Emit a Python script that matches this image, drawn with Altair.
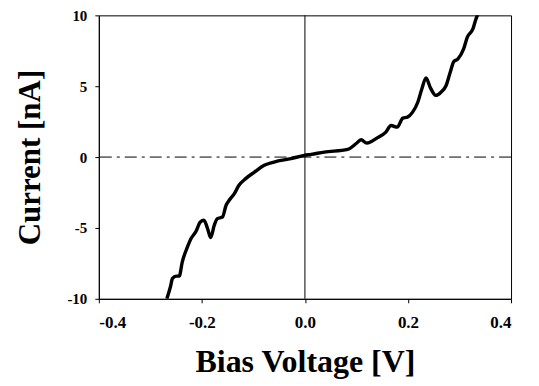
import altair as alt
import pandas as pd

voltage = [-0.268, -0.261, -0.257, -0.250, -0.244, -0.238, -0.228, -0.221, -0.212, -0.203,
           -0.196, -0.189, -0.183, -0.176, -0.170, -0.160, -0.153, -0.147, -0.137, -0.128,
           -0.115, -0.098, -0.079, -0.060, -0.027, -0.001, 0.012, 0.0375, 0.083, 0.099,
           0.109, 0.120, 0.141, 0.157, 0.167, 0.179, 0.190, 0.199, 0.209, 0.219,
           0.227, 0.235, 0.243, 0.254, 0.264, 0.274, 0.282, 0.289, 0.297, 0.308,
           0.315, 0.326, 0.332, 0.336]
current = [-10.0, -9.15, -8.56, -8.40, -8.40, -7.39, -6.34, -5.75, -5.28, -4.58,
           -4.46, -5.04, -5.68, -4.81, -4.34, -4.23, -3.40, -3.05, -2.58, -1.99,
           -1.52, -1.06, -0.58, -0.35, -0.11, 0.12, 0.19, 0.35, 0.54, 0.94,
           1.22, 0.99, 1.37, 1.76, 2.23, 2.11, 2.75, 2.82, 3.17, 3.87,
           4.82, 5.59, 4.93, 4.35, 4.58, 5.05, 5.99, 6.74, 6.93, 7.63,
           8.45, 9.04, 9.75, 10.1]

x_ticks = [-0.4, -0.2, 0.0, 0.2, 0.4]
y_ticks = [-10, -5, 0, 5, 10]

df = pd.DataFrame({"v": voltage, "i": current})
FONT = "Liberation Serif"

xs = alt.Scale(domain=[-0.4, 0.4], nice=False)
ys = alt.Scale(domain=[-10, 10], nice=False)

line = alt.Chart(df).mark_line(color="black", strokeWidth=3.4, interpolate="monotone", clip=True).encode(
    x=alt.X("v:Q", scale=xs, title="Bias Voltage [V]",
            axis=alt.Axis(values=x_ticks, format=".1f", grid=False, tickSize=4,
                          labelExpr="replace(datum.label, '\u2212', '-')",
                          labelPadding=12, titlePadding=16, labelFontSize=17,
                          titleFontSize=32)),
    y=alt.Y("i:Q", scale=ys, title="Current [nA]",
            axis=alt.Axis(values=y_ticks, format="d", grid=False, tickSize=4,
                          labelExpr="replace(datum.label, '\u2212', '-')",
                          labelPadding=8, titlePadding=20, labelFontSize=15,
                          titleFontSize=31)),
)

vline = alt.Chart(pd.DataFrame({"v": [0.0]})).mark_rule(color="black", strokeWidth=1).encode(x=alt.X("v:Q", scale=xs))
hline = alt.Chart(pd.DataFrame({"i": [0.0]})).mark_rule(color="black", strokeWidth=1, strokeDash=[12, 5, 3, 5]).encode(y=alt.Y("i:Q", scale=ys))

chart = alt.layer(vline, hline, line).properties(
    width=413, height=284,
    autosize=alt.AutoSizeParams(type="none"),
    padding={"left": 91, "top": 7, "right": 20, "bottom": 86},
).configure_view(stroke="black", strokeWidth=1).configure_axis(
    labelFont=FONT, titleFont=FONT, labelFontWeight="bold", titleFontWeight="bold",
    labelColor="black", titleColor="black",
    domainColor="black", tickColor="black",
)

chart.save("out.html", embed_options={"renderer": "svg", "actions": False})
